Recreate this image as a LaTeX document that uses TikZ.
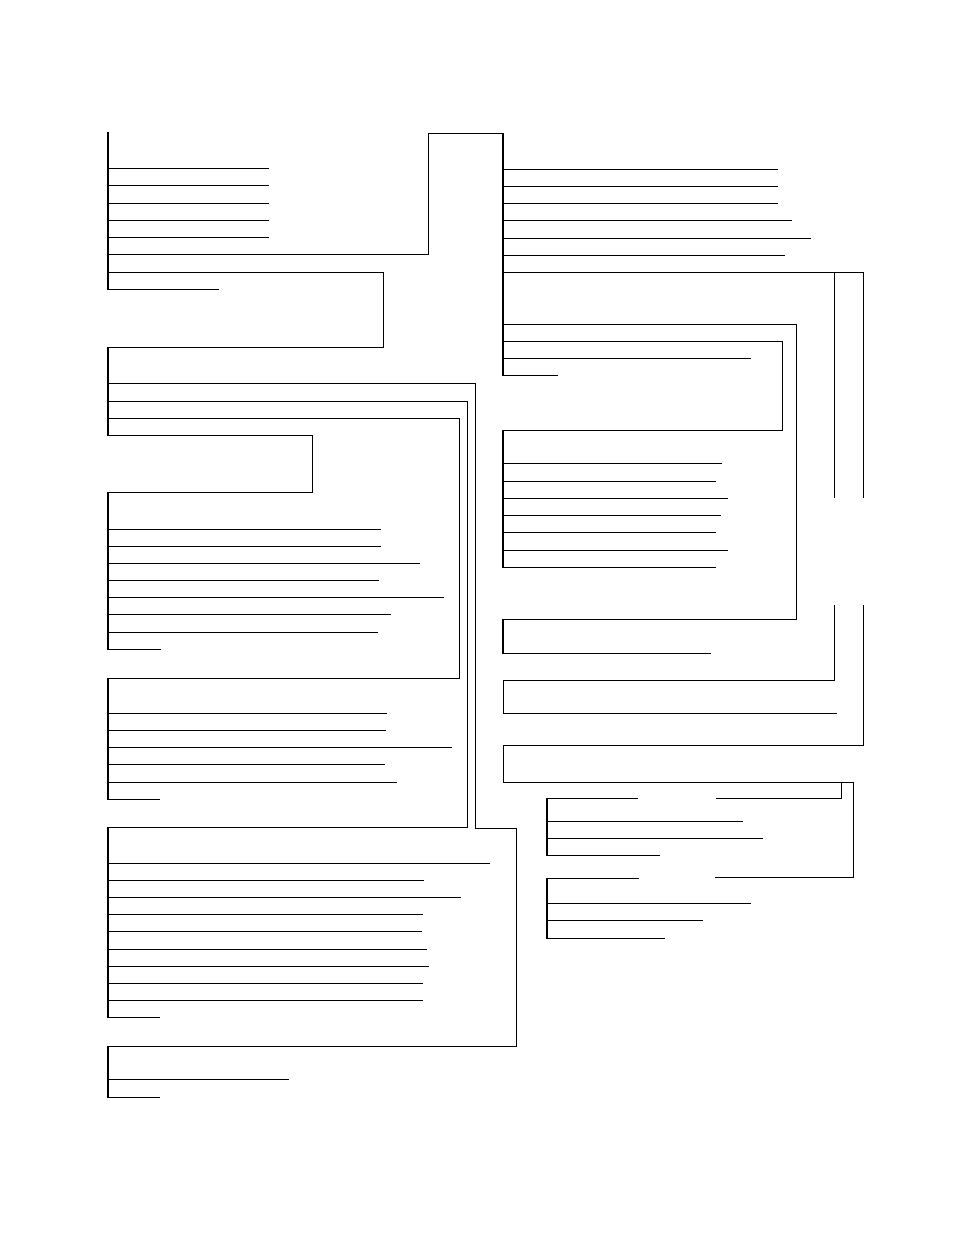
\documentclass[tikz,border=0pt]{standalone}
\usetikzlibrary{positioning}
\tikzset{
	rung/.style={line width=1pt},
	bar/.style={line width=1.6pt},
	link/.style={line width=1pt}}

\begin{document}
\begin{tikzpicture}[x=1pt,y=-1pt]
		\useasboundingbox (0,0) rectangle (954,1235);

		% left column
		\draw[bar] (108,132) -- (108,290);
		\foreach \y/\x in {168/269,185/269,203/269,220/269,237/269,289/219}
			\draw[rung] (108,\y) -- (\x,\y);
		\draw[link] (108,254) -- (428,254) -- (428,133) -- (503,133);
		\draw[link] (108,272) -- (383,272) -- (383,347) -- (108,347);

		\draw[bar] (108,347) -- (108,436);
		\draw[link] (108,383) -- (475,383) -- (475,828) -- (516,828) -- (516,1046) -- (108,1046);
		\draw[link] (108,401) -- (467,401) -- (467,827) -- (108,827);
		\draw[link] (108,418) -- (459,418) -- (459,678) -- (108,678);
		\draw[link] (108,435) -- (312,435) -- (312,492) -- (108,492);

		\draw[bar] (108,492) -- (108,650);
		\foreach \y/\x in {529/381,546/381,563/420,580/379,597/444,614/391,632/378,649/161}
			\draw[rung] (108,\y) -- (\x,\y);

		\draw[bar] (108,678) -- (108,800);
		\foreach \y/\x in {713/387,730/386,747/452,764/385,782/397,799/160}
			\draw[rung] (108,\y) -- (\x,\y);

		\draw[bar] (108,827) -- (108,1018);
		\foreach \y/\x in {863/490,880/424,897/461,914/423,931/422,949/427,966/429,983/423,1000/423,1017/160}
			\draw[rung] (108,\y) -- (\x,\y);

		\draw[bar] (108,1046) -- (108,1098);
		\foreach \y/\x in {1079/289,1097/160}
			\draw[rung] (108,\y) -- (\x,\y);

		% right column
		\draw[bar] (503,133) -- (503,376);
		\foreach \y/\x in {169/778,186/778,203/778,220/792,238/811,255/785,358/751,375/558}
			\draw[rung] (503,\y) -- (\x,\y);
		\draw[link] (503,272) -- (863,272) -- (863,498);
		\draw[link] (834,272) -- (834,498);
		\draw[link] (503,324) -- (796,324) -- (796,619) -- (503,619);
		\draw[link] (503,341) -- (782,341) -- (782,430) -- (503,430);

		\draw[bar] (503,430) -- (503,568);
		\foreach \y/\x in {463/722,481/716,498/728,515/721,532/716,550/728,567/716}
			\draw[rung] (503,\y) -- (\x,\y);

		\draw[bar] (503,619) -- (503,654);
		\draw[rung] (503,653) -- (711,653);

		\draw[link] (834,605) -- (834,680) -- (503,680) -- (503,713) -- (837,713);
		\draw[link] (863,605) -- (863,745) -- (503,745) -- (503,782) -- (853,782) -- (853,877) -- (715,877);
		\draw[link] (841,782) -- (841,798) -- (716,798);

		\draw[bar] (547,798) -- (547,856);
		\foreach \y/\x in {798/638,821/743,838/763,855/660}
			\draw[rung] (547,\y) -- (\x,\y);

		\draw[bar] (547,878) -- (547,939);
		\foreach \y/\x in {878/639,903/751,920/703,938/665}
			\draw[rung] (547,\y) -- (\x,\y);
	\end{tikzpicture}
\end{document}
